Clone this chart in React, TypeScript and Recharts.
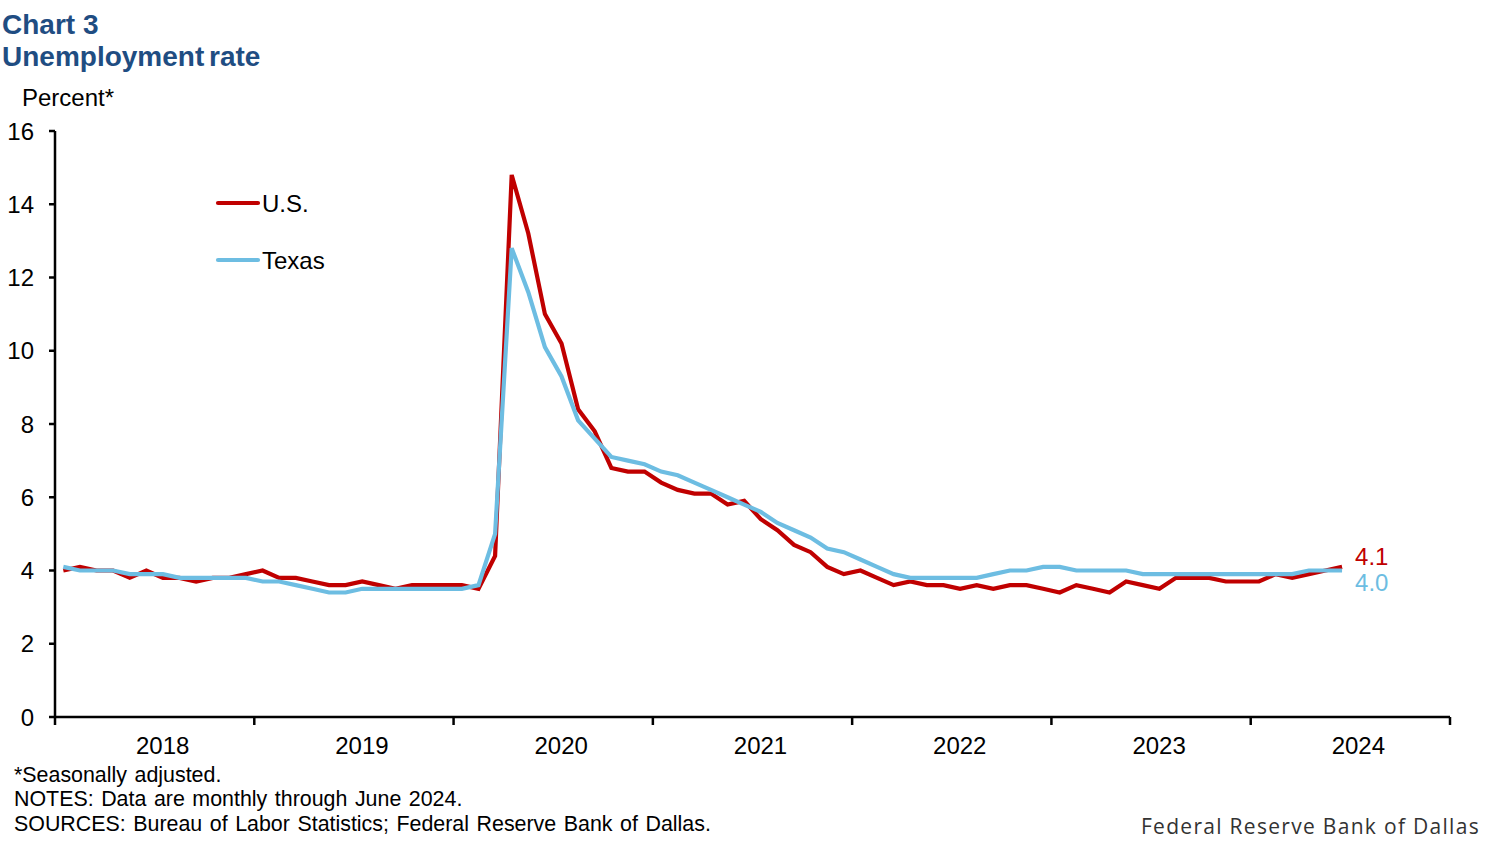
import React from 'react'
import { LineChart, Line, XAxis, YAxis } from 'recharts'

const usRate = [
  4.0, 4.1, 4.0, 4.0, 3.8, 4.0, 3.8, 3.8, 3.7, 3.8, 3.8, 3.9,
  4.0, 3.8, 3.8, 3.7, 3.6, 3.6, 3.7, 3.6, 3.5, 3.6, 3.6, 3.6,
  3.6, 3.5, 4.4, 14.8, 13.2, 11.0, 10.2, 8.4, 7.8, 6.8, 6.7, 6.7,
  6.4, 6.2, 6.1, 6.1, 5.8, 5.9, 5.4, 5.1, 4.7, 4.5, 4.1, 3.9,
  4.0, 3.8, 3.6, 3.7, 3.6, 3.6, 3.5, 3.6, 3.5, 3.6, 3.6, 3.5,
  3.4, 3.6, 3.5, 3.4, 3.7, 3.6, 3.5, 3.8, 3.8, 3.8, 3.7, 3.7,
  3.7, 3.9, 3.8, 3.9, 4.0, 4.1,
]

const texasRate = [
  4.1, 4.0, 4.0, 4.0, 3.9, 3.9, 3.9, 3.8, 3.8, 3.8, 3.8, 3.8,
  3.7, 3.7, 3.6, 3.5, 3.4, 3.4, 3.5, 3.5, 3.5, 3.5, 3.5, 3.5,
  3.5, 3.6, 5.0, 12.8, 11.6, 10.1, 9.3, 8.1, 7.6, 7.1, 7.0, 6.9,
  6.7, 6.6, 6.4, 6.2, 6.0, 5.8, 5.6, 5.3, 5.1, 4.9, 4.6, 4.5,
  4.3, 4.1, 3.9, 3.8, 3.8, 3.8, 3.8, 3.8, 3.9, 4.0, 4.0, 4.1,
  4.1, 4.0, 4.0, 4.0, 4.0, 3.9, 3.9, 3.9, 3.9, 3.9, 3.9, 3.9,
  3.9, 3.9, 3.9, 4.0, 4.0, 4.0,
]

const years = ['2018', '2019', '2020', '2021', '2022', '2023', '2024']
const yTicks = [0, 2, 4, 6, 8, 10, 12, 14, 16]

// month index -> position in the middle of that month
const data = usRate.map((us, i) => ({ x: i + 0.5, us, tx: texasRate[i] }))
const xTicks = Array.from({ length: years.length * 2 + 1 }, (_, i) => i * 6)

const RED = '#c00000'
const BLUE = '#6dbde2'
const FONT = '"Liberation Sans", Arial, sans-serif'
const last = data.length - 1

function YearTick(props: any) {
  const { x, y, payload } = props
  const v = payload.value
  if (v % 12 === 0) {
    return <line x1={x} x2={x} y1={y} y2={y + 8} stroke="#000" strokeWidth={2.5} />
  }
  return (
    <text x={x + 8} y={y + 37} textAnchor="middle" fontSize={24} fontFamily={FONT} fill="#000">
      {years[Math.floor(v / 12)]}
    </text>
  )
}

function endLabel(color: string, dy: number) {
  return (p: any) => {
    if (p.index !== last) return null
    return (
      <text x={p.x + 13} y={p.y + dy} fontSize={24} fontFamily={FONT} fill={color}>
        {Number(p.value).toFixed(1)}
      </text>
    )
  }
}

export default function App() {
  return (
    <div style={{ position: 'absolute', left: 0, top: 0, width: 1494, height: 846, background: '#fff' }}>
      <LineChart
        width={1494}
        height={846}
        data={data}
        margin={{ top: 131, right: 44, bottom: 99, left: 5 }}
      >
        <XAxis
          type="number"
          dataKey="x"
          domain={[0, 84]}
          ticks={xTicks}
          interval={0}
          tick={<YearTick />}
          tickLine={false}
          tickSize={0}
          tickMargin={0}
          height={30}
          axisLine={{ stroke: '#000', strokeWidth: 2.5 }}
        />
        <YAxis
          domain={[0, 16]}
          ticks={yTicks}
          interval={0}
          width={50}
          tickSize={6}
          tickMargin={15}
          axisLine={{ stroke: '#000', strokeWidth: 2.5 }}
          tickLine={{ stroke: '#000', strokeWidth: 2.5 }}
          tick={{ fontSize: 24, fontFamily: FONT, fill: '#000' }}
        />
        <Line
          dataKey="us"
          stroke={RED}
          strokeWidth={4.2}
          dot={false}
          isAnimationActive={false}
          label={endLabel(RED, -1.5)}
        />
        <Line
          dataKey="tx"
          stroke={BLUE}
          strokeWidth={4.2}
          dot={false}
          isAnimationActive={false}
          label={endLabel(BLUE, 20)}
        />
      </LineChart>
      <svg
        width={1494}
        height={846}
        style={{ position: 'absolute', left: 0, top: 0, pointerEvents: 'none' }}
      >
        <g fontFamily={FONT} fill="#1f4d82" fontWeight="bold" fontSize={28}>
          <text x={2} y={34}>Chart 3</text>
          <text x={2} y={66} style={{ wordSpacing: -3 }}>Unemployment rate</text>
        </g>
        <text x={22} y={106} fontFamily={FONT} fontSize={24} fill="#000">Percent*</text>

        <line x1={218} x2={258} y1={203} y2={203} stroke={RED} strokeWidth={4.2} strokeLinecap="round" />
        <text x={262} y={211.5} fontFamily={FONT} fontSize={24} fill="#000">U.S.</text>
        <line x1={218} x2={258} y1={260} y2={260} stroke={BLUE} strokeWidth={4.2} strokeLinecap="round" />
        <text x={262} y={268.5} fontFamily={FONT} fontSize={24} fill="#000">Texas</text>

        <g fontFamily={FONT} fontSize={21.4} fill="#000" style={{ wordSpacing: 1.6 }}>
          <text x={14} y={782}>*Seasonally adjusted.</text>
          <text x={14} y={806}>NOTES: Data are monthly through June 2024.</text>
          <text x={14} y={831}>SOURCES: Bureau of Labor Statistics; Federal Reserve Bank of Dallas.</text>
        </g>
        <text
          x={1480}
          y={834}
          textAnchor="end"
          fontFamily='"Open Sans", sans-serif'
          fontSize={21}
          fill="#333"
          style={{ letterSpacing: 1.3 }}
        >
          Federal Reserve Bank of Dallas
        </text>
      </svg>
    </div>
  )
}
